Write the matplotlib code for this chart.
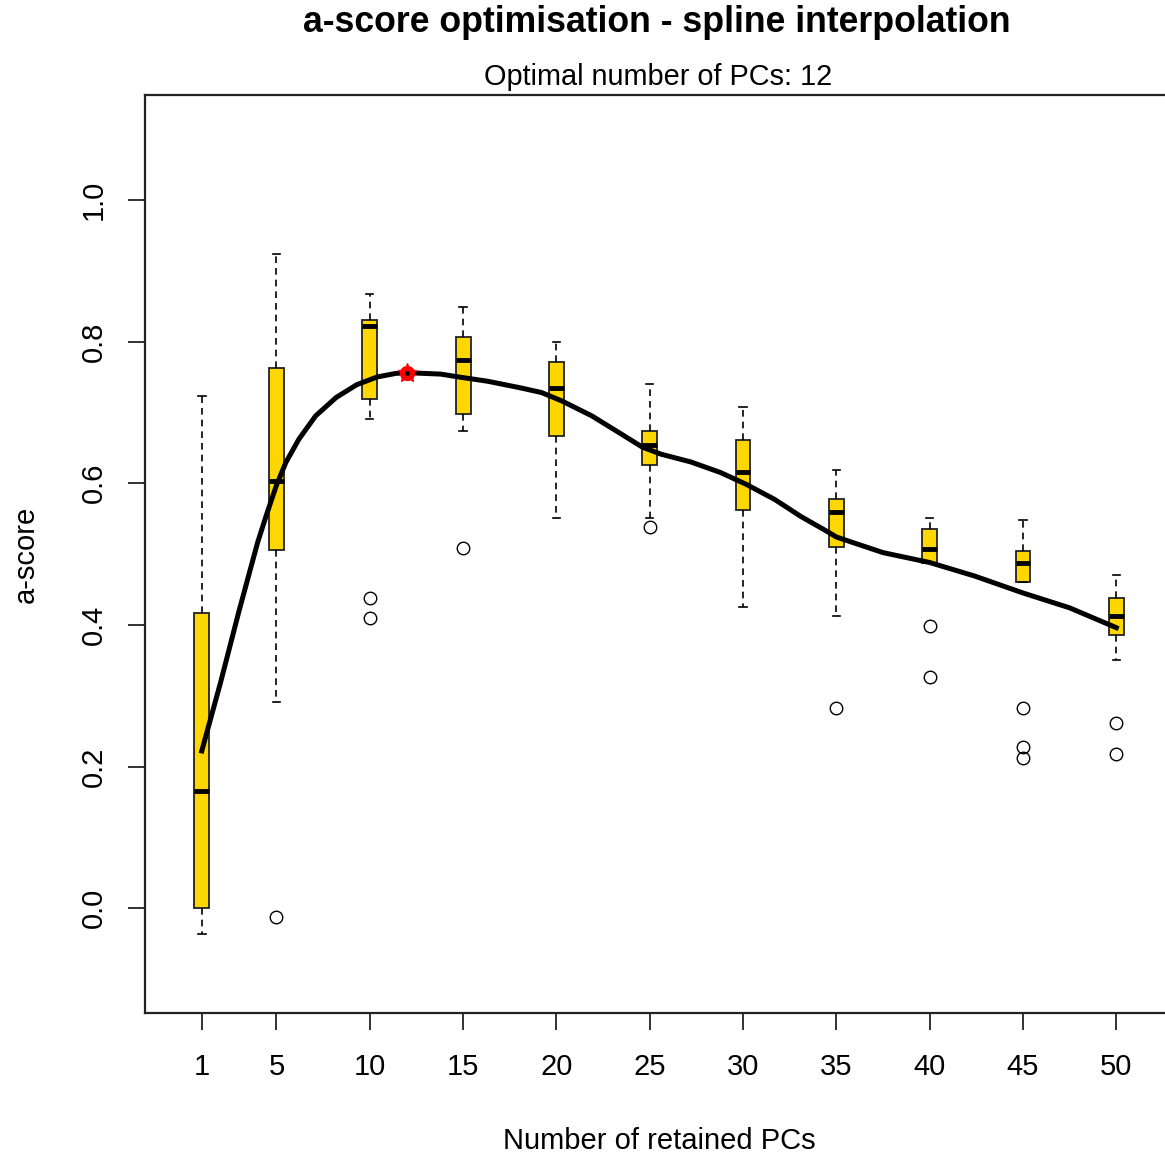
import matplotlib.pyplot as plt

plt.rcParams['font.family'] = ['Liberation Sans', 'DejaVu Sans']

# a-score distribution per number of retained PCs
pcs = [1, 5, 10, 15, 20, 25, 30, 35, 40, 45, 50]
whisk_hi = [0.723, 0.923, 0.867, 0.849, 0.800, 0.740, 0.708, 0.619, 0.551, 0.548, 0.471]
q3 = [0.417, 0.763, 0.831, 0.807, 0.771, 0.674, 0.661, 0.577, 0.536, 0.504, 0.438]
med = [0.166, 0.603, 0.822, 0.774, 0.735, 0.654, 0.616, 0.560, 0.507, 0.488, 0.413]
q1 = [0.000, 0.506, 0.719, 0.698, 0.667, 0.625, 0.562, 0.510, 0.488, 0.461, 0.385]
whisk_lo = [-0.036, 0.291, 0.690, 0.674, 0.551, 0.551, 0.425, 0.412, 0.488, 0.461, 0.350]
outliers = [[], [-0.013], [0.438, 0.409], [0.509], [], [0.538], [], [0.283],
            [0.399, 0.326], [0.283, 0.228, 0.212], [0.262, 0.218]]

# spline through the mean a-scores
spline_x = [1, 2, 3, 4, 4.5, 5, 5.5, 6.2, 7.1, 8.2, 9.3, 10.4, 11.4, 12, 13.8, 15,
            16.3, 18, 19.2, 20.3, 21.9, 23.5, 24.6, 25.6, 27.2, 28.8, 30.2, 31.7,
            33.1, 34.5, 35, 37.5, 40, 42.4, 45, 47.5, 50]
spline_y = [0.222, 0.318, 0.420, 0.517, 0.558, 0.597, 0.629, 0.662, 0.695, 0.721,
            0.739, 0.750, 0.755, 0.756, 0.754, 0.749, 0.744, 0.735, 0.728, 0.716,
            0.695, 0.669, 0.651, 0.641, 0.630, 0.615, 0.598, 0.577, 0.553, 0.532,
            0.524, 0.502, 0.488, 0.469, 0.445, 0.424, 0.396]

opt_pc = 12
opt_score = 0.756

stats = []
for i in range(len(pcs)):
    stats.append(dict(med=med[i], q1=q1[i], q3=q3[i], whislo=whisk_lo[i],
                      whishi=whisk_hi[i], fliers=outliers[i]))

fig = plt.figure(figsize=(11.65, 11.56), dpi=100)
ax = fig.add_axes([0.1245, 0.1237, 0.8824, 0.7941])

ax.bxp(stats, positions=pcs, widths=0.8, capwidths=0.4, patch_artist=True,
       boxprops=dict(facecolor='#FFD700', edgecolor='#222222', linewidth=1.3),
       medianprops=dict(color='black', linewidth=3.5, solid_capstyle='butt'),
       whiskerprops=dict(color='black', linewidth=1.2, linestyle=(0, (4, 3))),
       capprops=dict(color='black', linewidth=1.2),
       flierprops=dict(marker='o', markerfacecolor='none', markeredgecolor='black',
                       markersize=9, markeredgewidth=1.0))

ax.plot(spline_x, spline_y, color='black', linewidth=3.6, zorder=5,
        solid_joinstyle='round')
ax.plot(opt_pc, opt_score, marker='o', color='red', markersize=10, zorder=6)
ax.plot(opt_pc, opt_score, marker='*', color='red', markersize=14, zorder=6)
ax.plot(opt_pc, opt_score, marker='o', color='black', markersize=2.5, zorder=7)

ax.set_xlim(-2.04, 53.04)
ax.set_ylim(-0.148, 1.148)
ax.set_xticks(pcs)
ax.set_xticklabels([str(p) for p in pcs])
yt = [0.0, 0.2, 0.4, 0.6, 0.8, 1.0]
ax.set_yticks(yt)
ax.set_yticklabels(['%.1f' % v for v in yt], rotation=90, va='center')
ax.tick_params(axis='both', length=12, width=1.3, color='#222222', labelsize=21)
ax.tick_params(axis='x', pad=17)
ax.tick_params(axis='y', pad=15)
for s in ax.spines.values():
    s.set_linewidth(1.6)
    s.set_color('#222222')

ax.set_xlabel('Number of retained PCs', fontsize=21, labelpad=33)
ax.set_ylabel('a-score', fontsize=21, labelpad=29)

fig.text(657 / 1165, 1 - 22 / 1156, 'a-score optimisation - spline interpolation',
         ha='center', va='center', fontsize=25.7, fontweight='bold')
fig.text(658 / 1165, 1 - 77 / 1156, 'Optimal number of PCs: %d' % opt_pc,
         ha='center', va='center', fontsize=20.8)

fig.savefig('out.png', dpi=100)
